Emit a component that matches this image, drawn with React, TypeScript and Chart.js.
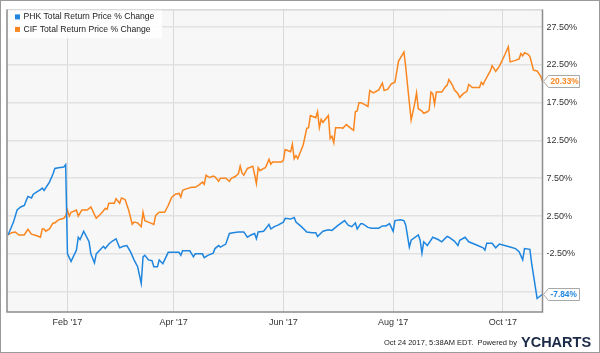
import React, { useEffect, useRef } from "react";
import { Chart, registerables } from "chart.js";

Chart.register(...registerables);

// x values are days since 2016-12-30
const PHK_DAYS = [0, 3, 5, 7, 9, 11, 13, 14, 16, 18, 19, 20, 23, 25, 26, 28, 31, 32, 33, 35, 38, 39, 40, 42, 45, 46, 48, 49, 53, 54, 56, 58, 60, 62, 64, 66, 68, 70, 72, 74, 75, 76, 78, 80, 81, 83, 84, 86, 89, 92, 95, 96, 97, 101, 103, 104, 108, 109, 111, 114, 115, 117, 118, 121, 123, 125, 128, 131, 133, 135, 137, 138, 139, 142, 143, 145, 146, 148, 150, 153, 154, 157, 159, 160, 163, 166, 169, 171, 172, 175, 178, 180, 183, 187, 189, 191, 193, 194, 196, 197, 200, 202, 206, 208, 210, 212, 214, 215, 218, 220, 221, 223, 224, 228, 229, 230, 231, 233, 236, 239, 241, 244, 245, 248, 250, 251, 254, 256, 258, 261, 264, 265, 266, 269, 271, 273, 276, 279, 282, 284, 286, 287, 290, 291, 294, 297];
const PHK = [0, 1.7, 3.3, 3.7, 3.9, 5.1, 4.9, 5.4, 5.7, 6.0, 6.2, 5.9, 7.0, 8.1, 8.8, 8.9, 9.0, 9.3, -2.5, -3.5, -2.0, -0.3, -0.6, 0.5, -0.9, -2.5, -3.7, -2.5, -1.5, -1.8, -1.2, -0.8, -0.5, -1.7, -1.5, -1.4, -2.2, -3.3, -4.2, -6.4, -2.9, -2.7, -3.3, -3.4, -4.2, -4.2, -3.3, -3.8, -2.3, -2.3, -2.3, -2.7, -2.1, -2.1, -2.9, -2.5, -2.5, -3.0, -2.7, -2.4, -1.8, -1.4, -1.6, -1.2, 0.2, 0.3, 0.4, 0.4, -0.3, 0.0, 0.2, -0.5, 0.4, 0.5, 0.8, 1.4, 0.8, 1.1, 1.3, 1.7, 2.2, 2.1, 2.3, 1.7, 1.1, 0.4, 0.3, 0.3, -0.2, 0.5, 0.7, 0.6, 1.2, 1.9, 1.3, 1.1, 1.6, 0.8, 1.5, 1.5, 1.0, 0.9, 0.9, 1.2, 1.2, 1.5, 0.5, 1.9, 2.0, 1.9, 1.3, -1.6, -0.7, 0.0, -0.7, -2.4, -0.9, -1.4, -0.3, -0.6, -0.9, -0.2, -0.3, -0.8, -1.4, -0.7, -0.3, -0.9, -1.1, -1.4, -1.7, -2.0, -1.1, -1.1, -1.7, -1.2, -1.4, -1.6, -1.8, -2.2, -3.3, -1.8, -1.9, -3.8, -8.4, -7.84];

const CIF_DAYS = [0, 2, 4, 6, 9, 11, 13, 16, 18, 19, 20, 21, 23, 25, 26, 28, 31, 32, 33, 34, 35, 38, 39, 41, 44, 46, 49, 52, 54, 55, 56, 59, 60, 62, 63, 65, 67, 69, 70, 72, 74, 75, 76, 78, 81, 82, 84, 87, 89, 91, 93, 95, 96, 97, 99, 102, 104, 106, 108, 109, 110, 112, 114, 115, 117, 118, 121, 123, 124, 126, 128, 129, 130, 131, 133, 134, 136, 137, 138, 139, 140, 142, 143, 145, 146, 147, 152, 153, 154, 156, 157, 158, 159, 160, 161, 164, 166, 167, 168, 170, 171, 172, 173, 174, 175, 178, 179, 180, 181, 182, 185, 186, 188, 190, 192, 193, 194, 195, 196, 197, 200, 201, 203, 206, 208, 209, 211, 213, 215, 217, 220, 221, 222, 224, 226, 227, 228, 230, 231, 233, 234, 235, 236, 237, 238, 241, 243, 244, 245, 247, 248, 250, 251, 253, 255, 256, 258, 262, 263, 264, 265, 268, 269, 271, 273, 276, 278, 279, 282, 284, 285, 286, 287, 289, 290, 292, 294, 296, 297];
const CIF = [0, 0.3, 0.4, 0.0, 0.0, 0.75, 0.1, -0.1, -0.3, 0.8, 0.8, 0.5, 0.8, 1.6, 1.6, 2.0, 2.2, 2.5, 3.3, 2.5, 3.0, 3.3, 2.5, 3.3, 3.3, 3.7, 2.2, 2.9, 3.5, 3.4, 4.2, 4.2, 4.8, 4.2, 4.9, 4.7, 3.3, 1.4, 1.7, 1.6, 1.1, 3.0, 1.9, 1.7, 1.4, 2.6, 3.0, 3.0, 3.9, 5.0, 5.4, 5.5, 5.0, 5.9, 6.1, 6.3, 6.3, 6.6, 7.0, 6.7, 7.9, 7.6, 7.8, 7.7, 7.1, 7.5, 7.5, 7.1, 7.5, 7.7, 8.1, 9.1, 8.2, 7.9, 8.8, 8.9, 9.1, 8.0, 6.8, 8.9, 8.5, 8.8, 8.9, 10.0, 9.35, 9.65, 9.65, 9.9, 11.3, 11.1, 11.0, 12.0, 10.1, 10.5, 10.1, 11.9, 14.1, 14.2, 15.8, 15.6, 15.5, 16.3, 14.2, 15.3, 14.9, 15.8, 12.75, 13.05, 12.2, 14.2, 14.2, 14.1, 14.6, 14.2, 13.85, 16.3, 16.4, 17.5, 17.5, 17.4, 17.0, 19.1, 18.8, 19.2, 20.1, 19.1, 19.3, 20.0, 20.2, 23.0, 24.2, 22.2, 19.8, 15.2, 17.4, 18.8, 16.7, 16.4, 16.1, 16.3, 16.5, 18.9, 18.7, 17.3, 18.9, 18.9, 19.6, 19.8, 20.55, 19.8, 19.2, 18.7, 18.2, 18.7, 19.0, 19.9, 19.5, 19.5, 20.2, 19.9, 20.4, 21.7, 22.4, 21.65, 22.3, 23.8, 24.9, 22.9, 23.1, 23.3, 24.0, 23.7, 24.1, 23.9, 23.6, 21.8, 21.7, 21.0, 20.33];

const SERIES_NAMES = ["PHK Total Return Price % Change", "CIF Total Return Price % Change"];
const SERIES_COLORS = ["#1f86e0", "#fa861f"];
const X_TICK_DAYS = [33, 92, 153, 214, 275];
const X_TICK_LABELS = ["Feb '17", "Apr '17", "Jun '17", "Aug '17", "Oct '17"];
const Y_TICKS = [-7.5, -2.5, 2.5, 7.5, 12.5, 17.5, 22.5, 27.5];
const FOOTER_TEXT = "Oct 24 2017, 5:38AM EDT.  Powered by";
const LOGO_TEXT = "YCHARTS";

const FONT = "'Liberation Sans', Arial, sans-serif";

const decorPlugin = {
  id: "decor",
  beforeDraw(chart: any) {
    const { ctx, chartArea: a } = chart;
    ctx.save();
    ctx.fillStyle = "#ffffff";
    ctx.fillRect(0, 0, chart.width, chart.height);
    ctx.fillStyle = "#f7f7f7";
    ctx.fillRect(a.left, a.top, a.right - a.left, a.bottom - a.top);
    ctx.restore();
  },
  afterDraw(chart: any) {
    const { ctx, chartArea: a } = chart;
    ctx.save();
    // plot border
    ctx.strokeStyle = "#c8c8c8";
    ctx.lineWidth = 1;
    ctx.beginPath();
    ctx.moveTo(a.left, a.top + 0.5);
    ctx.lineTo(a.right, a.top + 0.5);
    ctx.stroke();
    ctx.strokeStyle = "#8c8c8c";
    ctx.lineWidth = 1.5;
    ctx.beginPath();
    ctx.moveTo(a.left, a.top);
    ctx.lineTo(a.left, a.bottom);
    ctx.lineTo(a.right, a.bottom);
    ctx.lineTo(a.right, a.top);
    ctx.stroke();

    // legend
    ctx.fillStyle = "rgba(255,255,255,0.88)";
    ctx.fillRect(a.left + 1, a.top + 1, 154, 28);
    ctx.font = "8.6px " + FONT;
    ctx.textBaseline = "middle";
    ctx.textAlign = "left";
    SERIES_NAMES.forEach((name, i) => {
      const cy = a.top + 7.5 + i * 12.5;
      ctx.fillStyle = SERIES_COLORS[i];
      ctx.fillRect(a.left + 8, cy - 2.5, 5, 5);
      ctx.fillStyle = "#222";
      ctx.fillText(name, a.left + 16.5, cy);
    });

    // end labels
    const yScale = chart.scales.y;
    chart.data.datasets.forEach((ds: any, i: number) => {
      const last = ds.data[ds.data.length - 1];
      const y = Math.round(yScale.getPixelForValue(last.y)) + 0.5;
      const x0 = a.right + 1;
      const h = 12;
      const w = 36;
      ctx.beginPath();
      ctx.moveTo(x0, y);
      ctx.lineTo(x0 + 5, y - h / 2);
      ctx.lineTo(x0 + w, y - h / 2);
      ctx.lineTo(x0 + w, y + h / 2);
      ctx.lineTo(x0 + 5, y + h / 2);
      ctx.closePath();
      ctx.fillStyle = "#ffffff";
      ctx.fill();
      ctx.strokeStyle = "#a8a8a8";
      ctx.lineWidth = 1;
      ctx.stroke();
      ctx.fillStyle = SERIES_COLORS[i];
      ctx.font = "bold 8.3px " + FONT;
      ctx.textAlign = "left";
      ctx.textBaseline = "middle";
      ctx.fillText(last.y.toFixed(2) + "%", x0 + 7, y + 0.5);
    });

    // footer
    ctx.fillStyle = "#222";
    ctx.font = "7.5px " + FONT;
    ctx.textAlign = "right";
    ctx.textBaseline = "alphabetic";
    ctx.fillText(FOOTER_TEXT, 517, 345);
    ctx.fillStyle = "#1b2a47";
    ctx.font = "bold 14.5px " + FONT;
    ctx.textAlign = "left";
    ctx.fillText(LOGO_TEXT, 521, 346.5);

    // outer border
    ctx.strokeStyle = "#9a9a9a";
    ctx.lineWidth = 1;
    ctx.strokeRect(0.5, 0.5, chart.width - 1, chart.height - 1);
    ctx.restore();
  },
};

export default function App() {
  const ref = useRef<HTMLCanvasElement | null>(null);
  useEffect(() => {
    document.body.style.margin = "0";
    const canvas = ref.current;
    if (!canvas) return;
    const mk = (days: number[], vals: number[]) => days.map((d, i) => ({ x: d, y: vals[i] }));
    const chart = new Chart(canvas, {
      type: "line",
      data: {
        datasets: [
          {
            label: SERIES_NAMES[0],
            data: mk(PHK_DAYS, PHK),
            borderColor: SERIES_COLORS[0],
            borderWidth: 1.5,
            pointRadius: 0,
            tension: 0,
          },
          {
            label: SERIES_NAMES[1],
            data: mk(CIF_DAYS, CIF),
            borderColor: SERIES_COLORS[1],
            borderWidth: 1.5,
            pointRadius: 0,
            tension: 0,
          },
        ],
      },
      options: {
        animation: false,
        responsive: true,
        maintainAspectRatio: false,
        layout: { padding: { left: 7, top: 9, right: 0, bottom: 0 } },
        plugins: { legend: { display: false }, tooltip: { enabled: false } },
        scales: {
          x: {
            type: "linear",
            min: -0.6,
            max: 297,
            border: { display: false },
            grid: { color: "#d9d9d9", lineWidth: 1, drawTicks: false },
            afterBuildTicks: (axis: any) => {
              axis.ticks = X_TICK_DAYS.map((v) => ({ value: v }));
            },
            afterFit: (axis: any) => {
              axis.height = 41;
            },
            ticks: {
              autoSkip: false,
              maxRotation: 0,
              padding: 5,
              color: "#333",
              font: { family: FONT, size: 9 },
              callback: (_v: any, i: number) => X_TICK_LABELS[i],
            },
          },
          y: {
            type: "linear",
            position: "right",
            min: -10.19,
            max: 29.84,
            border: { display: false },
            grid: { color: "#e2e2e2", lineWidth: 1.6, drawTicks: false },
            afterBuildTicks: (axis: any) => {
              axis.ticks = Y_TICKS.map((v) => ({ value: v }));
            },
            afterFit: (axis: any) => {
              axis.width = 57.5;
            },
            ticks: {
              padding: 4,
              color: "#333",
              font: { family: FONT, size: 9 },
              callback: (v: any) => (v === -7.5 ? "" : Number(v).toFixed(2) + "%"),
            },
          },
        },
      },
      plugins: [decorPlugin],
    } as any);
    return () => chart.destroy();
  }, []);
  return (
    <div style={{ width: 600, height: 353, position: "relative" }}>
      <canvas ref={ref} />
    </div>
  );
}
